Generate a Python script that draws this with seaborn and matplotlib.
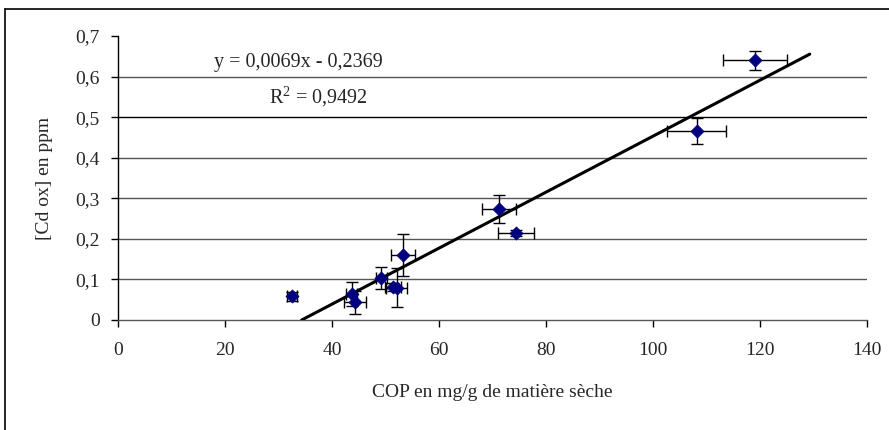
import numpy as np
import pandas as pd
import matplotlib
matplotlib.use('Agg')
import matplotlib.pyplot as plt
from matplotlib.lines import Line2D
import seaborn as sns

# Données
cop = [32.5, 43.7, 44.3, 49.2, 51.4, 52.1, 53.3, 71.2, 74.4, 108.2, 119.1]
cd_ox = [0.058, 0.064, 0.044, 0.103, 0.081, 0.080, 0.160, 0.273, 0.214, 0.465, 0.640]
err_x = [1.0, 1.0, 2.0, 1.0, 1.5, 2.0, 2.3, 3.2, 3.3, 5.5, 6.0]
err_y = [0.010, 0.030, 0.028, 0.027, 0.010, 0.048, 0.052, 0.035, 0.008, 0.032, 0.023]

slope = 0.0069
intercept = -0.2369
trend_x = [34.33, 129.3]
equation = "y = 0,0069x - 0,2369"
r2_label = "R$^2$ = 0,9492"

x_ticks = [0, 20, 40, 60, 80, 100, 120, 140]
y_ticks = [0, 0.1, 0.2, 0.3, 0.4, 0.5, 0.6, 0.7]
y_ticklabels = ['0', '0,1', '0,2', '0,3', '0,4', '0,5', '0,6', '0,7']

df = pd.DataFrame({'COP': cop, 'Cd': cd_ox})

sns.set_style('white')
plt.rcParams['font.family'] = ['Liberation Serif', 'DejaVu Serif']
plt.rcParams['mathtext.fontset'] = 'custom'
plt.rcParams['mathtext.rm'] = 'Liberation Serif'
plt.rcParams['mathtext.it'] = 'Liberation Serif'

fig = plt.figure(figsize=(8.89, 4.30), dpi=100)
ax = fig.add_axes([118 / 889, 110 / 430, 749 / 889, 284 / 430])

# cadre extérieur (zone de graphique)
fig.add_artist(Line2D([5 / 889, 5 / 889], [0, 1 - 9 / 430], color='black', lw=1.2,
                      transform=fig.transFigure))
fig.add_artist(Line2D([5 / 889, 1], [1 - 9 / 430, 1 - 9 / 430], color='black', lw=1.2,
                      transform=fig.transFigure))

# quadrillage horizontal
for yv in y_ticks[1:-1]:
    ax.axhline(yv, color='black' if yv == 0.5 else '#555555', lw=1, zorder=1)

# barres d'erreur
ax.errorbar(cop, cd_ox, xerr=err_x, yerr=err_y, fmt='none', ecolor='black',
            elinewidth=1, capsize=4, capthick=1, zorder=2)

# droite de tendance
tx = np.array(trend_x)
ax.plot(tx, slope * tx + intercept, color='black', lw=2.2, zorder=3)

sns.scatterplot(data=df, x='COP', y='Cd', marker='D', color='#000080', s=45,
                edgecolor='#000080', linewidth=0.5, ax=ax, zorder=4)

ax.set_xlim(0, 140)
ax.set_ylim(0, 0.7)
ax.set_xticks(x_ticks)
ax.set_xticklabels([str(t) for t in x_ticks], fontsize=14)
ax.set_yticks(y_ticks)
ax.set_yticklabels(y_ticklabels, fontsize=14)
ax.tick_params(axis='x', direction='out', length=5, width=1, color='black',
               bottom=True, pad=11)
ax.tick_params(axis='y', direction='out', length=5, width=1, color='black',
               left=True, pad=8)

for side in ['top', 'right']:
    ax.spines[side].set_visible(False)
ax.spines['left'].set_color('black')
ax.spines['bottom'].set_color('#555555')
ax.spines['left'].set_linewidth(1)
ax.spines['bottom'].set_linewidth(1)

ax.set_xlabel('COP en mg/g de matière sèche', fontsize=14, labelpad=18)
ax.set_ylabel('[Cd ox] en ppm', fontsize=14, labelpad=16)

ax.text(33.7, 0.635, equation, fontsize=14.5, ha='center', va='center')
ax.text(37.4, 0.549, r2_label, fontsize=14.5, ha='center', va='center')

plt.savefig('out.png', dpi=100)
